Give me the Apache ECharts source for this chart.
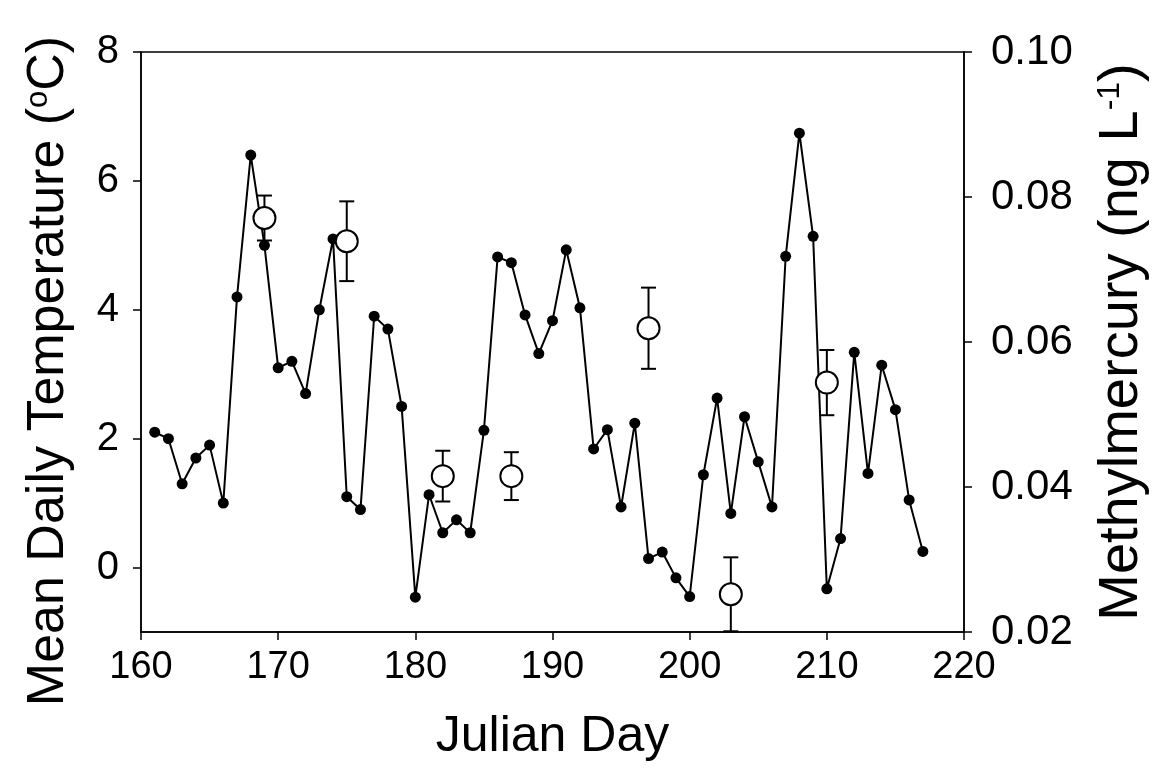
<!DOCTYPE html>
<html>
<head>
<meta charset="utf-8">
<script src="https://cdn.jsdelivr.net/npm/echarts@6/dist/echarts.min.js"></script>
<style>
  html, body { margin: 0; padding: 0; background: #fff; }
  #chart { width: 1161px; height: 782px; }
</style>
</head>
<body>
<div id="chart"></div>
<script>
// julian days of the daily temperature record
var days = [161, 162, 163, 164, 165, 166, 167, 168, 169, 170,
  171, 172, 173, 174, 175, 176, 177, 178, 179, 180,
  181, 182, 183, 184, 185, 186, 187, 188, 189, 190,
  191, 192, 193, 194, 195, 196, 197, 198, 199, 200,
  201, 202, 203, 204, 205, 206, 207, 208, 209, 210,
  211, 212, 213, 214, 215, 216, 217];
// mean daily temperature (°C)
var temperature = [2.1, 2.0, 1.3, 1.7, 1.9, 1.0, 4.2, 6.4, 5.0, 3.1,
  3.2, 2.7, 4.0, 5.1, 1.1, 0.9, 3.9, 3.7, 2.5, -0.46,
  1.13, 0.54, 0.74, 0.54, 2.13, 4.82, 4.73, 3.92, 3.32, 3.83,
  4.93, 4.03, 1.84, 2.14, 0.94, 2.24, 0.14, 0.24, -0.16, -0.45,
  1.44, 2.63, 0.84, 2.34, 1.64, 0.94, 4.83, 6.74, 5.14, -0.33,
  0.45, 3.34, 1.46, 3.14, 2.45, 1.05, 0.25];

// methylmercury samples (ng/L) with error
var mehgDays = [169, 175, 182, 187, 197, 203, 210];
var mehg = [0.0771, 0.0739, 0.0415, 0.0415, 0.0619, 0.0252, 0.0544];
var mehgErr = [0.0031, 0.0055, 0.0035, 0.0033, 0.0056, 0.0051, 0.0045];

var xTicks = [160, 170, 180, 190, 200, 210, 220];
var tempTicks = [0, 2, 4, 6, 8];

var font = 'Liberation Sans, Arial, sans-serif';

var tempData = days.map(function (d, i) { return [d, temperature[i]]; });
var mehgData = mehgDays.map(function (d, i) { return [d, mehg[i]]; });
var errData = mehgDays.map(function (d, i) {
  return [d, mehg[i] - mehgErr[i], mehg[i] + mehgErr[i]];
});

var myChart = echarts.init(document.getElementById('chart'), null, { renderer: 'canvas' });

var option = {
  animation: false,
  backgroundColor: '#fff',
  grid: {
    left: 141,
    right: 197,
    top: 52,
    bottom: 150,
    show: true,
    borderColor: '#000',
    borderWidth: 1.5,
    outerBoundsMode: 'none'
  },
  xAxis: {
    type: 'value',
    min: 160,
    max: 220,
    interval: 10,
    name: 'Julian Day',
    nameLocation: 'middle',
    nameGap: 80,
    nameTextStyle: { fontFamily: font, fontSize: 50, color: '#000' },
    axisLine: { onZero: false, lineStyle: { color: '#000', width: 1.5 } },
    axisTick: { inside: false, length: 8, lineStyle: { color: '#000', width: 1.5 } },
    axisLabel: { fontFamily: font, fontSize: 38, color: '#000', margin: 17 },
    splitLine: { show: false }
  },
  yAxis: [
    {
      type: 'value',
      min: -1,
      max: 8,
      position: 'left',
      name: 'Mean Daily Temperature ({s|o}C)',
      nameLocation: 'middle',
      nameGap: 66,
      nameTextStyle: {
        fontFamily: font, fontSize: 52, color: '#000',
        padding: [0, 58, 0, 0],
        rich: { s: { fontFamily: font, fontSize: 31, color: '#000', verticalAlign: 'top', lineHeight: 30 } }
      },
      axisLine: { show: true, onZero: false, lineStyle: { color: '#000', width: 1.5 } },
      axisTick: { show: true, length: 8, customValues: tempTicks, lineStyle: { color: '#000', width: 1.5 } },
      axisLabel: { fontFamily: font, fontSize: 40, color: '#000', margin: 22, customValues: tempTicks },
      splitLine: { show: false }
    },
    {
      type: 'value',
      min: 0.02,
      max: 0.10,
      interval: 0.02,
      position: 'right',
      name: 'Methylmercury (ng L{s|-1})',
      nameLocation: 'middle',
      nameRotate: 90,
      nameGap: 130,
      nameTextStyle: {
        fontFamily: font, fontSize: 56, color: '#000',
        rich: { s: { fontFamily: font, fontSize: 32, color: '#000', verticalAlign: 'top', lineHeight: 30 } }
      },
      axisLine: { show: true, onZero: false, lineStyle: { color: '#000', width: 1.5 } },
      axisTick: { show: true, length: 8, lineStyle: { color: '#000', width: 1.5 } },
      axisLabel: {
        fontFamily: font, fontSize: 42, color: '#000', margin: 27,
        formatter: function (v) { return v.toFixed(2); }
      },
      splitLine: { show: false }
    }
  ],
  series: [
    {
      name: 'Temperature',
      type: 'line',
      yAxisIndex: 0,
      data: tempData,
      symbol: 'circle',
      symbolSize: 11,
      showSymbol: true,
      itemStyle: { color: '#000' },
      lineStyle: { color: '#000', width: 2 },
      z: 2
    },
    {
      name: 'MeHg error',
      type: 'custom',
      yAxisIndex: 1,
      data: errData,
      encode: { x: 0, y: [1, 2] },
      renderItem: function (params, api) {
        var x = api.value(0);
        var lo = api.coord([x, api.value(1)]);
        var hi = api.coord([x, api.value(2)]);
        var w = 7.5;
        var st = { stroke: '#000', lineWidth: 2 };
        return {
          type: 'group',
          children: [
            { type: 'line', shape: { x1: hi[0], y1: hi[1], x2: lo[0], y2: lo[1] }, style: st },
            { type: 'line', shape: { x1: hi[0] - w, y1: hi[1], x2: hi[0] + w, y2: hi[1] }, style: st },
            { type: 'line', shape: { x1: lo[0] - w, y1: lo[1], x2: lo[0] + w, y2: lo[1] }, style: st }
          ]
        };
      },
      z: 3
    },
    {
      name: 'Methylmercury',
      type: 'scatter',
      yAxisIndex: 1,
      data: mehgData,
      symbol: 'circle',
      symbolSize: 22,
      itemStyle: { color: '#fff', borderColor: '#000', borderWidth: 2, opacity: 1 },
      z: 4
    }
  ]
};

myChart.setOption(option);
</script>
</body>
</html>
